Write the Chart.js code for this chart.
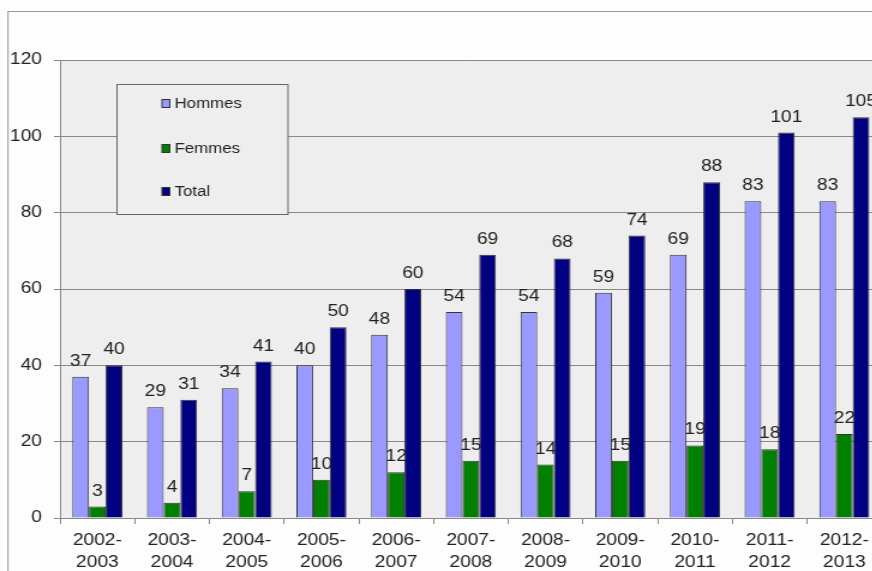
<!DOCTYPE html>
<html>
<head>
<meta charset="utf-8">
<script src="https://cdn.jsdelivr.net/npm/chart.js@4.4.0/dist/chart.umd.min.js"></script>
<style>
  html, body { margin: 0; padding: 0; overflow: hidden; background: #fdfdfd; }
  /* the original picture is stretched sideways, so the canvas is too */
  #wrap { position: absolute; left: 0; top: 0; width: 750px; height: 600px;
          transform: scaleX(1.2); transform-origin: 0 0; }
</style>
</head>
<body>
<div id="wrap"><canvas id="chart" width="750" height="600"></canvas></div>
<script>
const seasons = ['2002-2003', '2003-2004', '2004-2005', '2005-2006', '2006-2007', '2007-2008',
  '2008-2009', '2009-2010', '2010-2011', '2011-2012', '2012-2013'];
const hommes = [37, 29, 34, 40, 48, 54, 54, 59, 69, 83, 83];
const femmes = [3, 4, 7, 10, 12, 15, 14, 15, 19, 18, 22];
const total = [40, 31, 41, 50, 60, 69, 68, 74, 88, 101, 105];
const yTicks = [0, 20, 40, 60, 80, 100, 120];

const FONT = 'Arial, "Liberation Sans", sans-serif';

// frame, plot background
const backgroundPlugin = {
  id: 'bg',
  beforeDraw(chart) {
    const ctx = chart.ctx;
    const a = chart.chartArea;
    ctx.save();
    ctx.fillStyle = '#fdfdfd';
    ctx.fillRect(0, 0, chart.width, chart.height);
    ctx.strokeStyle = '#9a9a9a';
    ctx.lineWidth = 1;
    ctx.strokeRect(6.7, 11.5, 1200, 1200);
    ctx.fillStyle = '#eeeeee';
    ctx.fillRect(a.left, a.top, a.right - a.left, a.bottom - a.top);
    ctx.restore();
  }
};

// value above each bar
const labelsPlugin = {
  id: 'barLabels',
  afterDatasetsDraw(chart) {
    const ctx = chart.ctx;
    ctx.save();
    ctx.font = '16px ' + FONT;
    ctx.fillStyle = '#222';
    ctx.textAlign = 'center';
    ctx.textBaseline = 'alphabetic';
    chart.data.datasets.forEach((ds, i) => {
      chart.getDatasetMeta(i).data.forEach((bar, j) => {
        ctx.fillText(ds.data[j], bar.x, bar.y - 11);
      });
    });
    ctx.restore();
  }
};

// legend box inside the plot
const legendPlugin = {
  id: 'boxLegend',
  afterDraw(chart) {
    const ctx = chart.ctx;
    ctx.save();
    ctx.fillStyle = '#eeeeee';
    ctx.fillRect(97.5, 84.5, 142.5, 130);
    ctx.strokeStyle = '#666';
    ctx.lineWidth = 1;
    ctx.strokeRect(97.5, 84.5, 142.5, 130);
    ctx.font = '14px ' + FONT;
    ctx.textBaseline = 'middle';
    const ys = [104, 149, 192];
    chart.data.datasets.forEach((ds, i) => {
      ctx.fillStyle = ds.backgroundColor;
      ctx.fillRect(135, ys[i] - 4.5, 6.5, 8);
      ctx.strokeStyle = '#333';
      ctx.strokeRect(135, ys[i] - 4.5, 6.5, 8);
      ctx.fillStyle = '#222';
      ctx.fillText(ds.label, 145.5, ys[i]);
    });
    ctx.restore();
  }
};

const barStyle = { borderColor: '#333', borderWidth: 1, categoryPercentage: 0.67, barPercentage: 1.0 };

new Chart(document.getElementById('chart'), {
  type: 'bar',
  data: {
    labels: seasons.map(s => { const p = s.split('-'); return [p[0] + '-', p[1]]; }),
    datasets: [
      { label: 'Hommes', data: hommes, backgroundColor: '#9999ff', ...barStyle },
      { label: 'Femmes', data: femmes, backgroundColor: '#008000', ...barStyle },
      { label: 'Total', data: total, backgroundColor: '#000080', ...barStyle }
    ]
  },
  options: {
    responsive: false,
    animation: false,
    layout: { padding: { top: 60, right: 15.25, left: 0, bottom: 0 } },
    plugins: { legend: { display: false }, tooltip: { enabled: false } },
    scales: {
      x: {
        afterFit(scale) { scale.height = 82; },
        grid: { offset: true, drawOnChartArea: false, tickLength: 6, color: '#888' },
        border: { color: '#888' },
        ticks: { color: '#222', font: { family: FONT, size: 16, lineHeight: 1.375 }, padding: 6, maxRotation: 0, autoSkip: false }
      },
      y: {
        min: 0,
        max: 120,
        afterFit(scale) { scale.width = 50; },
        afterBuildTicks(scale) { scale.ticks = yTicks.map(v => ({ value: v })); },
        grid: { color: '#888', tickLength: 5 },
        border: { color: '#888' },
        ticks: { color: '#222', font: { family: FONT, size: 16 }, padding: 10 }
      }
    }
  },
  plugins: [backgroundPlugin, labelsPlugin, legendPlugin]
});
</script>
</body>
</html>
